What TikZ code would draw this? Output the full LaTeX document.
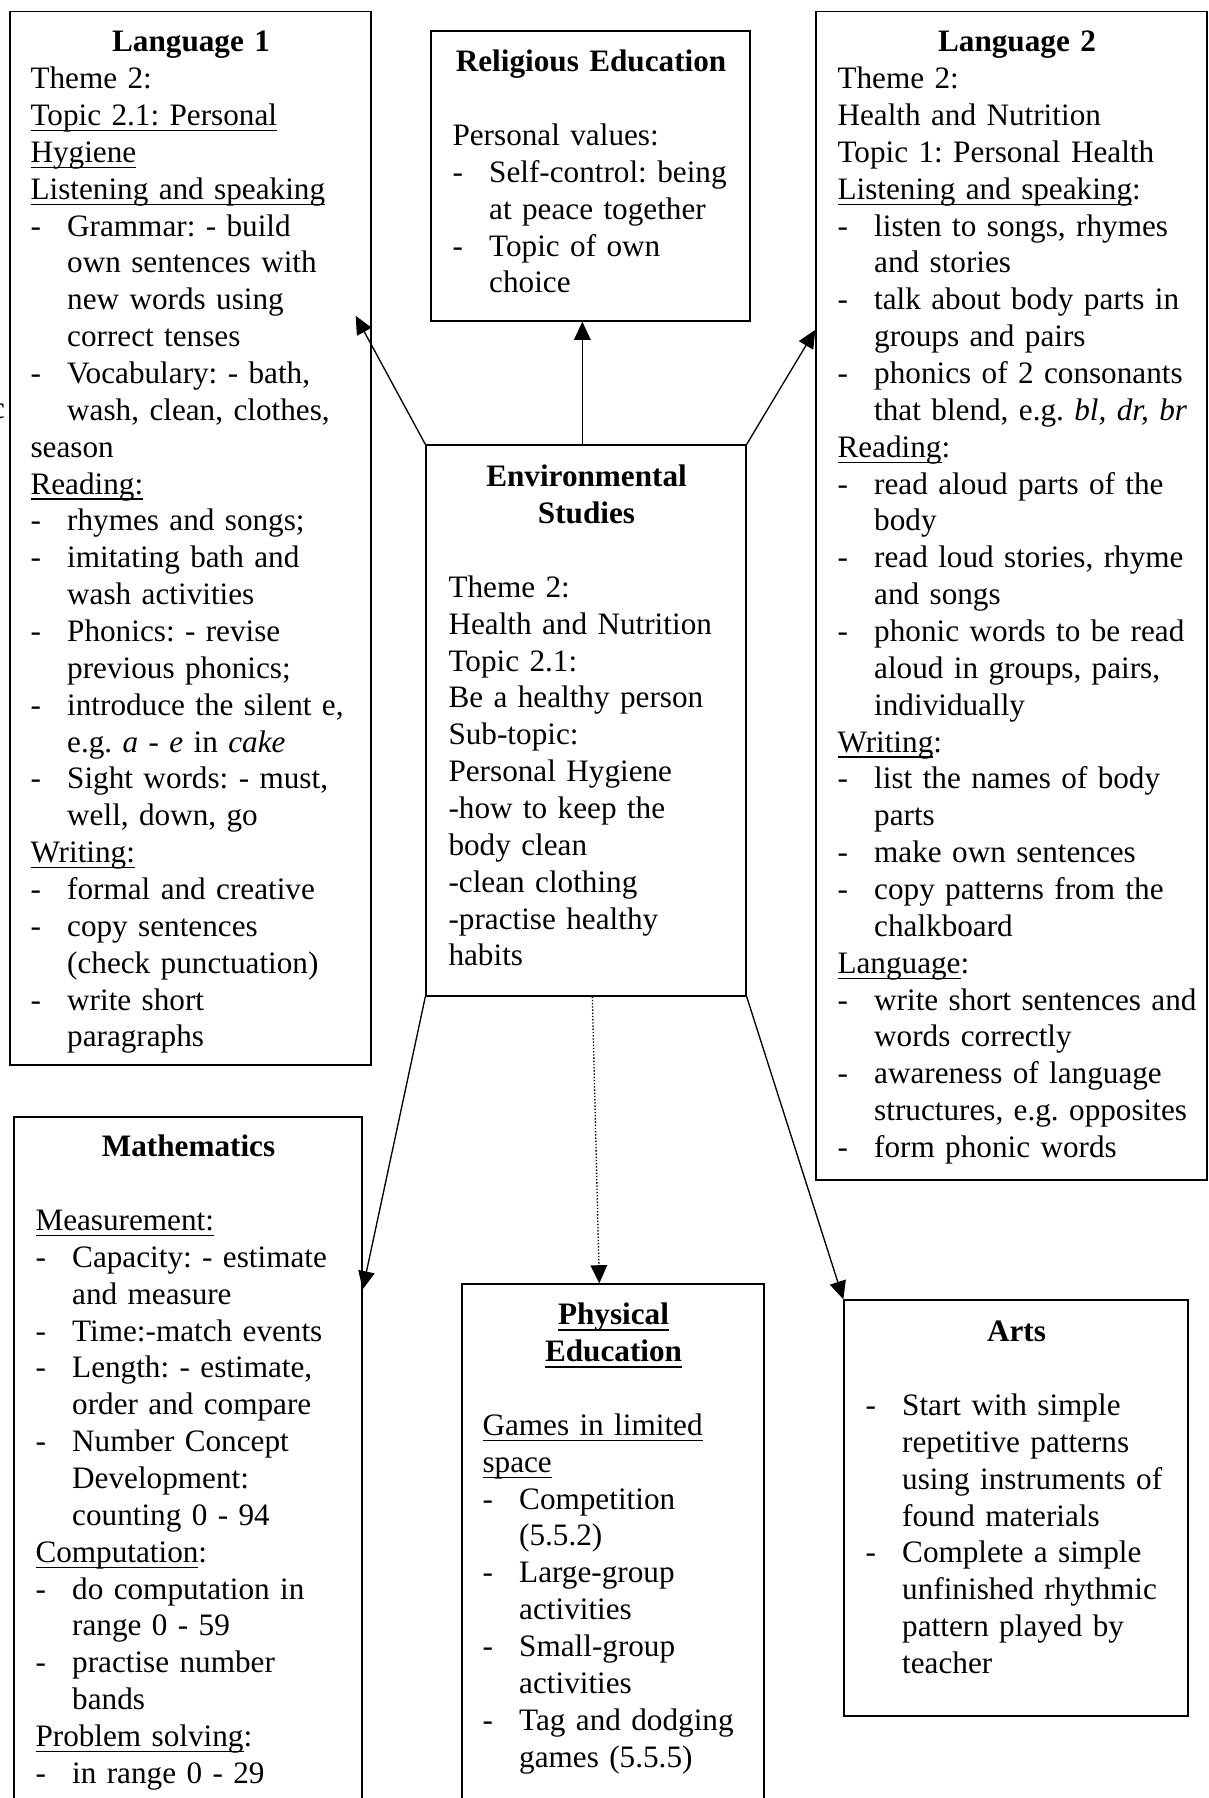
\documentclass[tikz,border=0pt]{standalone}
\usepackage{fontspec}
\setmainfont{Liberation Serif}
\usetikzlibrary{arrows.meta,calc,fit}

% indentation of the text after a dash
\newlength\dI \setlength\dI{13.75pt}
% word-processor style underline
\newlength\ulw
\newcommand\ulx[1]{\settowidth\ulw{#1}\rlap{\rule[-2.2pt]{\ulw}{0.55pt}}#1}
% one printed line each
\newcommand\txl[1]{\par\noindent\mbox{\rule{0pt}{10pt}#1}}
\newcommand\dsl[1]{\par\noindent\mbox{\rule{0pt}{10pt}\makebox[\dI][l]{-}#1}}
\newcommand\ctl[1]{\par\noindent\mbox{\rule{0pt}{10pt}\hspace*{\dI}#1}}
\newcommand\hdl[1]{\par\noindent\makebox[\linewidth]{\rule{0pt}{10pt}\textbf{#1}}}
\newcommand\bkl{\par\noindent\mbox{\rule{0pt}{10pt}}}

\tikzset{
  box/.style={draw, line width=0.5pt, inner sep=0pt, fill=white},
  txt/.style={anchor=north west, inner sep=0pt, yshift=13.7pt,
    font=\fontsize{11.7pt}{13.82pt}\selectfont\frenchspacing},
  link/.style={line width=0.5pt, -{Triangle[length=6.8pt,width=6.2pt]}},
  weak/.style={line width=0.5pt, dash pattern=on 0.5pt off 0.7pt,
    -{Triangle[length=6.8pt,width=6.2pt]}},
}

\begin{document}
\begin{tikzpicture}[x=0.375pt,y=-0.375pt]
\useasboundingbox (0,0) rectangle (1208,1798);
\fill[white] (0,0) rectangle (1208,1798);

% stray letter at the left edge
\node[anchor=base east, inner sep=0pt, font=\fontsize{11.7pt}{13.82pt}\selectfont] (frag) at (5.5,418) {c};

% subject boxes
\node[box, fit={(10,11.5) (371,1065)}] (L1) {};
\node[box, fit={(431,31) (750,321)}] (RE) {};
\node[box, fit={(816,11.5) (1207,1180)}] (L2) {};
\node[box, fit={(426,445) (746,996)}] (ENV) {};
\node[box, fit={(14,1117) (362,1840)}] (MA) {};
\node[box, fit={(462,1284) (764,1840)}] (PE) {};
\node[box, fit={(844,1300) (1188,1716)}] (AR) {};

% Language 1
\node[txt, text width=120.4pt] (L1t) at (30,51) {%
\hdl{Language 1}
\txl{Theme 2:}
\txl{\ulx{Topic 2.1: Personal}}
\txl{\ulx{Hygiene}}
\txl{\ulx{Listening and speaking}}
\dsl{Grammar: - build}
\ctl{own sentences with}
\ctl{new words using}
\ctl{correct tenses}
\dsl{Vocabulary: - bath,}
\ctl{wash, clean, clothes,}
\txl{season}
\txl{\ulx{Reading:}}
\dsl{rhymes and songs;}
\dsl{imitating bath and}
\ctl{wash activities}
\dsl{Phonics: - revise}
\ctl{previous phonics;}
\dsl{introduce the silent e,}
\ctl{e.g. \textit{a} - \textit{e} in \textit{cake}}
\dsl{Sight words: - must,}
\ctl{well, down, go}
\txl{\ulx{Writing:}}
\dsl{formal and creative}
\dsl{copy sentences}
\ctl{(check punctuation)}
\dsl{write short}
\ctl{paragraphs}};

% Religious Education
\node[txt, text width=103.9pt] (REt) at (452,71) {%
\hdl{Religious Education}
\bkl
\txl{Personal values:}
\dsl{Self-control: being}
\ctl{at peace together}
\dsl{Topic of own}
\ctl{choice}};

% Language 2
\node[txt, text width=134.6pt] (L2t) at (837,51) {%
\hdl{Language 2}
\txl{Theme 2:}
\txl{Health and Nutrition}
\txl{Topic 1: Personal Health}
\txl{\ulx{Listening and speaking}:}
\dsl{listen to songs, rhymes}
\ctl{and stories}
\dsl{talk about body parts in}
\ctl{groups and pairs}
\dsl{phonics of 2 consonants}
\ctl{that blend, e.g. \textit{bl, dr, br}}
\txl{\ulx{Reading}:}
\dsl{read aloud parts of the}
\ctl{body}
\dsl{read loud stories, rhyme}
\ctl{and songs}
\dsl{phonic words to be read}
\ctl{aloud in groups, pairs,}
\ctl{individually}
\txl{\ulx{Writing}:}
\dsl{list the names of body}
\ctl{parts}
\dsl{make own sentences}
\dsl{copy patterns from the}
\ctl{chalkboard}
\txl{\ulx{Language}:}
\dsl{write short sentences and}
\ctl{words correctly}
\dsl{awareness of language}
\ctl{structures, e.g. opposites}
\dsl{form phonic words}};

% Environmental Studies
\node[txt, text width=103.5pt] (ENVt) at (448,486) {%
\hdl{Environmental}
\hdl{Studies}
\bkl
\txl{Theme 2:}
\txl{Health and Nutrition}
\txl{Topic 2.1:}
\txl{Be a healthy person}
\txl{Sub-topic:}
\txl{Personal Hygiene}
\txl{-how to keep the}
\txl{body clean}
\txl{-clean clothing}
\txl{-practise healthy}
\txl{habits}};

% Mathematics
\node[txt, text width=114.75pt] (MAt) at (35,1156) {%
\hdl{Mathematics}
\bkl
\txl{\ulx{Measurement:}}
\dsl{Capacity: - estimate}
\ctl{and measure}
\dsl{Time:-match events}
\dsl{Length: - estimate,}
\ctl{order and compare}
\dsl{Number Concept}
\ctl{Development:}
\ctl{counting 0 - 94}
\txl{\ulx{Computation}:}
\dsl{do computation in}
\ctl{range 0 - 59}
\dsl{practise number}
\ctl{bands}
\txl{\ulx{Problem solving}:}
\dsl{in range 0 - 29}};

% Physical Education
\node[txt, text width=98.25pt] (PEt) at (482,1324) {%
\hdl{\ulx{Physical}}
\hdl{\ulx{Education}}
\bkl
\txl{\ulx{Games in limited}}
\txl{\ulx{space}}
\dsl{Competition}
\ctl{(5.5.2)}
\dsl{Large-group}
\ctl{activities}
\dsl{Small-group}
\ctl{activities}
\dsl{Tag and dodging}
\ctl{games (5.5.5)}};

% Arts
\node[txt, text width=113.25pt] (ARt) at (865,1341) {%
\hdl{Arts}
\bkl
\dsl{Start with simple}
\ctl{repetitive patterns}
\ctl{using instruments of}
\ctl{found materials}
\dsl{Complete a simple}
\ctl{unfinished rhythmic}
\ctl{pattern played by}
\ctl{teacher}};

% links from the central theme
\draw[link] ($(ENV.north west)+(157,0)$) -- ($(RE.south west)+(152,0)$);
\draw[link] (ENV.north west) -- ($(L1.north east)+(-16,305)$);
\draw[link] (ENV.north east) -- ($(L2.north west)+(0,319)$);
\draw[link] (ENV.south west) -- ($(MA.north east)+(0,173)$);
\draw[weak] ($(ENV.south west)+(167,0)$) -- ($(PE.north west)+(138,0)$);
\draw[link] (ENV.south east) -- (AR.north west);
\end{tikzpicture}
\end{document}
